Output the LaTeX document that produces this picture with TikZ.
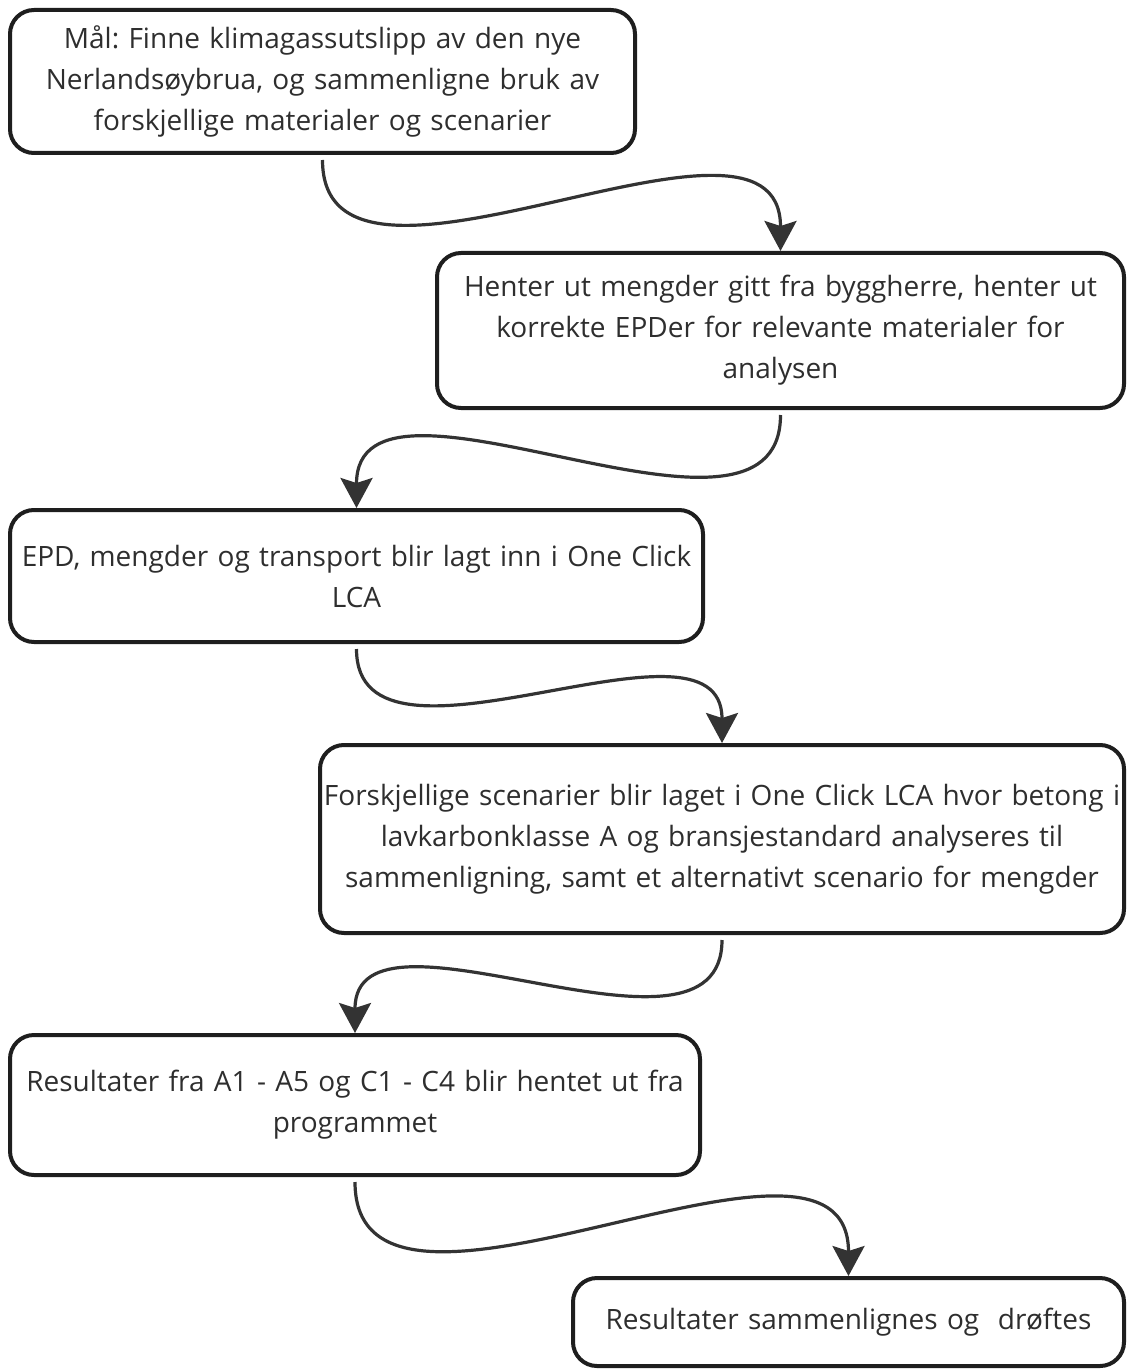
\documentclass[tikz,border=0pt]{standalone}
\usepackage{fontspec}
\setmainfont{Open Sans}
\frenchspacing
\usetikzlibrary{positioning,arrows.meta}
\definecolor{boxLine}{HTML}{1E1E1E}
\definecolor{arrowLine}{HTML}{333333}
\definecolor{stepText}{HTML}{2E2E2E}
\tikzset{
    stepBox/.style={
		draw=boxLine, line width=2pt, rounded corners=12pt,
		align=center, inner sep=0pt, text=stepText,
		font=\fontsize{14}{20.5}\selectfont
	}
}
\tikzset{
    flowArrow/.style={
		draw=arrowLine, line width=1.6pt,
		-{Stealth[length=15pt,width=16pt,inset=2.5pt]},
		out=-90, in=90, looseness=1
	}
}

\begin{document}
\begin{tikzpicture}[x=0.5pt,y=0.5pt]
			\useasboundingbox (0,0) rectangle (1126,-1369);
			\node[stepBox, text width=312.5pt, minimum height=71.5pt] (goal) at (322.5,-81.5)
				{Mål: Finne klimagassutslipp av den nye\\ Nerlandsøybrua, og sammenligne bruk av\\ forskjellige materialer og scenarier};
			\node[stepBox, text width=343.5pt, minimum height=77.5pt] (epdData) at (780.5,-330.5)
				{Henter ut mengder gitt fra byggherre, henter ut\\ korrekte EPDer for relevante materialer for\\ analysen};
			\node[stepBox, text width=346.5pt, minimum height=66pt] (lcaInput) at (356.5,-576)
				{EPD, mengder og transport blir lagt inn i One Click\\ LCA};
			\node[stepBox, text width=402pt, minimum height=94pt] (scenarios) at (722,-839)
				{Forskjellige scenarier blir laget i One Click LCA hvor betong i\\ lavkarbonklasse A og bransjestandard analyseres til\\ sammenligning, samt et alternativt scenario for mengder};
			\node[stepBox, text width=345pt, minimum height=70pt] (results) at (355,-1105)
				{Resultater fra A1 - A5 og C1 - C4 blir hentet ut fra\\ programmet};
			\node[stepBox, text width=275.5pt, minimum height=44pt] (discuss) at (848.5,-1322)
				{Resultater sammenlignes og\ \ drøftes};
			\draw[flowArrow] ([yshift=-2.5pt]goal.south) to (epdData.north);
			\draw[flowArrow] ([yshift=-2.5pt]epdData.south) to (lcaInput.north);
			\draw[flowArrow] ([yshift=-2.5pt]lcaInput.south) to (scenarios.north);
			\draw[flowArrow] ([yshift=-2.5pt]scenarios.south) to (results.north);
			\draw[flowArrow] ([yshift=-2.5pt]results.south) to (discuss.north);
		\end{tikzpicture}
\end{document}
